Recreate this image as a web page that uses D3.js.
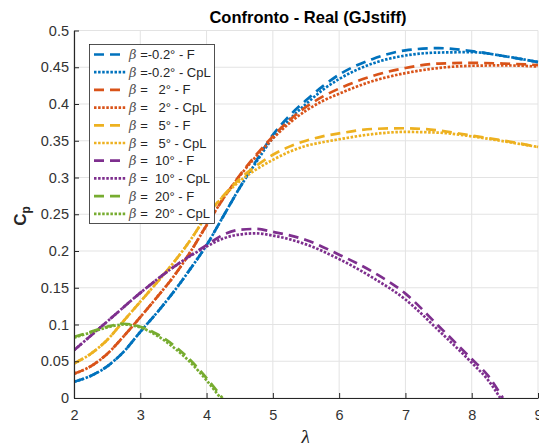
<!DOCTYPE html>
<html><head><meta charset="utf-8">
<script src="https://cdn.jsdelivr.net/npm/d3@7/dist/d3.min.js"></script>
<style>
html,body{margin:0;padding:0;background:#fff;}
svg{display:block;font-family:"Liberation Sans",Arial,sans-serif;}
</style></head>
<body>
<svg id="chart" width="539" height="443"></svg>
<script>
// ---------- data ----------
const chartTitle = "Confronto - Real (GJstiff)";
const xTicks = [2,3,4,5,6,7,8,9];
const yTicks = [0,0.05,0.1,0.15,0.2,0.25,0.3,0.35,0.4,0.45,0.5];
const yTickLabels = ["0","0.05","0.1","0.15","0.2","0.25","0.3","0.35","0.4","0.45","0.5"];
const seriesColors = ["#0072BD","#D95319","#EDB120","#7E2F8E","#77AC30"];

const lambdaGrid = [2,2.25,2.5,2.75,3,3.25,3.5,3.75,4,4.25,4.5,4.75,5,5.25,5.5,5.75,6,6.5,7,7.5,8,8.5,9];

const cpBeta0F   = [.022,.030,.043,.063,.090,.116,.144,.175,.208,.247,.286,.323,.358,.384,.405,.424,.440,.461,.473,.476,.472,.465,.457];
const cpBeta0CpL = [.022,.030,.043,.063,.090,.116,.144,.175,.208,.247,.286,.321,.354,.379,.400,.419,.434,.455,.466,.470,.4705,.465,.457];
const cpBeta2F   = [.033,.043,.060,.084,.110,.137,.165,.198,.235,.271,.303,.331,.356,.378,.396,.410,.421,.438,.449,.455,.456,.455,.453];
const cpBeta2CpL = [.033,.043,.060,.084,.110,.137,.165,.198,.235,.271,.302,.329,.353,.374,.391,.404,.414,.431,.442,.449,.452,.4525,.451];
const cpBeta5F   = [.047,.060,.079,.105,.131,.157,.184,.214,.248,.275,.298,.316,.331,.342,.350,.356,.360,.366,.367,.364,.357,.350,.3415];
const cpBeta5CpL = [.047,.060,.079,.105,.131,.157,.184,.214,.248,.274,.295,.311,.324,.335,.343,.348,.352,.359,.362,.361,.356,.349,.3415];

const lambdaBeta10F   = [2,2.5,3,3.5,4,4.25,4.5,4.75,5,5.5,6,6.5,7,7.5,8,8.25,8.47];
const cpBeta10F       = [.065,.104,.143,.178,.208,.222,.229,.230,.226,.215,.195,.172,.142,.098,.053,.030,0];
const lambdaBeta10CpL = [2,2.5,3,3.5,4,4.25,4.5,4.75,5,5.5,6,6.5,7,7.5,8,8.25,8.43];
const cpBeta10CpL     = [.065,.104,.143,.178,.206,.217,.2225,.224,.221,.209,.189,.164,.134,.092,.048,.024,0];

const lambdaBeta20F   = [2,2.25,2.5,2.75,3,3.25,3.5,3.75,4,4.24];
const cpBeta20F       = [.083,.090,.097,.101,.097,.087,.072,.052,.027,0];
const lambdaBeta20CpL = [2,2.25,2.5,2.75,3,3.25,3.5,3.75,4,4.21];
const cpBeta20CpL     = [.082,.089,.096,.100,.096,.085,.069,.049,.024,0];

const legendLabels = ["=-0.2° - F","=-0.2° - CpL","=   2° - F","=   2° - CpL","=   5° - F","=   5° - CpL","=  10° - F","=  10° - CpL","=  20° - F","=  20° - CpL"];

const series = [
  {x: lambdaGrid, y: cpBeta0F, c: 0, dash: "F"},
  {x: lambdaGrid, y: cpBeta0CpL, c: 0, dash: "CpL"},
  {x: lambdaGrid, y: cpBeta2F, c: 1, dash: "F"},
  {x: lambdaGrid, y: cpBeta2CpL, c: 1, dash: "CpL"},
  {x: lambdaGrid, y: cpBeta5F, c: 2, dash: "F"},
  {x: lambdaGrid, y: cpBeta5CpL, c: 2, dash: "CpL"},
  {x: lambdaBeta10F, y: cpBeta10F, c: 3, dash: "F"},
  {x: lambdaBeta10CpL, y: cpBeta10CpL, c: 3, dash: "CpL"},
  {x: lambdaBeta20F, y: cpBeta20F, c: 4, dash: "F"},
  {x: lambdaBeta20CpL, y: cpBeta20CpL, c: 4, dash: "CpL"}
];

// ---------- layout ----------
const svg = d3.select("#chart");
const L = 74, R = 538, T = 30.5, B = 398;
const x = d3.scaleLinear().domain([2,9]).range([L,R]);
const y = d3.scaleLinear().domain([0,0.5]).range([B,T]);
const axisColor = "#262626";
const dashStyle = {F: "10,6", CpL: "2.5,1.6"};

// grid
const grid = svg.append("g");
grid.selectAll("line.gx").data(xTicks).enter().append("line")
  .attr("x1", d=>x(d)).attr("x2", d=>x(d)).attr("y1", T).attr("y2", B)
  .attr("stroke", "#e3e3e3").attr("stroke-width", 1);
grid.selectAll("line.gy").data(yTicks).enter().append("line")
  .attr("x1", L).attr("x2", R).attr("y1", d=>y(d)).attr("y2", d=>y(d))
  .attr("stroke", "#e3e3e3").attr("stroke-width", 1);

// clip
svg.append("clipPath").attr("id","clip").append("rect")
  .attr("x", L).attr("y", T-2).attr("width", R-L+2).attr("height", B-T+2);

const line = d3.line().x(d=>x(d[0])).y(d=>y(d[1])).curve(d3.curveMonotoneX);
const plot = svg.append("g").attr("clip-path","url(#clip)");
series.forEach(s => {
  plot.append("path")
    .attr("d", line(s.x.map((v,i)=>[v, s.y[i]])))
    .attr("fill","none")
    .attr("stroke", seriesColors[s.c])
    .attr("stroke-width", 2.7)
    .attr("stroke-dasharray", dashStyle[s.dash]);
});

// axes
const xAxis = d3.axisBottom(x).tickValues(xTicks).tickSizeInner(-5).tickSizeOuter(0).tickPadding(10).tickFormat(d3.format("d"));
const yAxis = d3.axisLeft(y).tickValues(yTicks).tickSizeInner(-5).tickSizeOuter(0).tickPadding(10).tickFormat((d,i)=>yTickLabels[i]);
const gx = svg.append("g").attr("transform",`translate(0,${B})`).call(xAxis);
const gy = svg.append("g").attr("transform",`translate(${L},0)`).call(yAxis);
[gx, gy].forEach(g => {
  g.select(".domain").attr("stroke", axisColor).attr("stroke-width", 1.2);
  g.selectAll(".tick line").attr("stroke", axisColor);
  g.selectAll(".tick text").attr("fill", "#333").style("font-size","14.5px")
    .style("font-family","'Liberation Sans',Arial,sans-serif");
});
gx.selectAll(".tick text").attr("dy","0.85em");
gy.selectAll(".tick text").attr("x", -5);

// title
svg.append("text").attr("x", 308).attr("y", 23).attr("text-anchor","middle")
  .style("font-weight","bold").style("font-size","16.5px").attr("fill","#000").text(chartTitle);

// x label
svg.append("text").attr("x", 306).attr("y", 444).attr("text-anchor","middle")
  .style("font-family","'DejaVu Serif','Liberation Serif',serif").style("font-style","italic")
  .style("font-size","18px").attr("fill", axisColor).text("λ");

// y label
const yl = svg.append("text").attr("transform","translate(26,216) rotate(-90)").attr("text-anchor","middle")
  .style("font-weight","bold").style("font-size","17px").attr("fill", axisColor);
yl.append("tspan").text("C");
yl.append("tspan").attr("dy", 4).style("font-size","12px").text("p");

// legend
const lg = svg.append("g");
lg.append("rect").attr("x", 89.5).attr("y", 44.5).attr("width", 125).attr("height", 179)
  .attr("fill","#fff").attr("stroke", axisColor).attr("stroke-width", 0.8);
series.forEach((s,i) => {
  const yy = 54.5 + i*17.7;
  lg.append("line").attr("x1", 94).attr("x2", 126).attr("y1", yy).attr("y2", yy)
    .attr("stroke", seriesColors[s.c]).attr("stroke-width", 2.7)
    .attr("stroke-dasharray", dashStyle[s.dash]);
  const t = lg.append("text").attr("x", 129).attr("y", yy + 4.5)
    .attr("xml:space","preserve").style("white-space","pre")
    .style("font-size","13px").attr("fill", axisColor);
  t.append("tspan").style("font-family","'DejaVu Serif','Liberation Serif',serif")
    .style("font-style","italic").attr("fill","#555").text("β");
  t.append("tspan").text(" " + legendLabels[i]);
});
</script>
</body></html>
